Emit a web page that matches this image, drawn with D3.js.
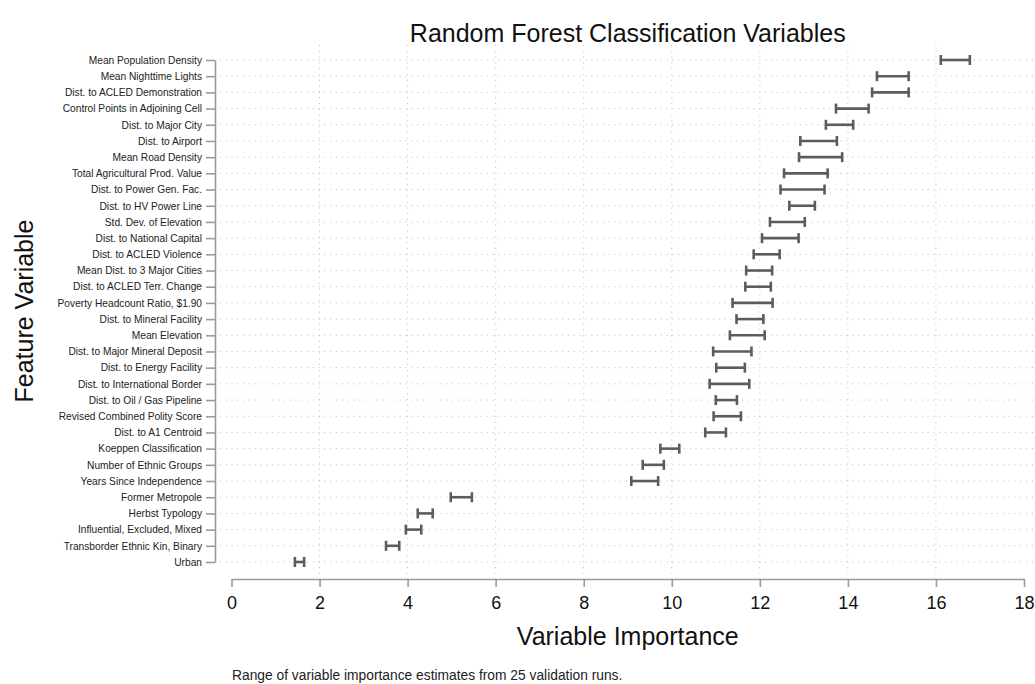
<!DOCTYPE html>
<html>
<head>
<meta charset="utf-8">
<script src="https://cdn.jsdelivr.net/npm/d3@7"></script>
<style>
  html, body { margin: 0; padding: 0; background: #fff; }
  svg { display: block; font-family: "Liberation Sans", Arial, Helvetica, sans-serif; }
</style>
</head>
<body>
<svg id="chart" width="1035" height="684"></svg>
<script>
// Feature variables, ordered from most to least important
const features = [
  "Mean Population Density",
  "Mean Nighttime Lights",
  "Dist. to ACLED Demonstration",
  "Control Points in Adjoining Cell",
  "Dist. to Major City",
  "Dist. to Airport",
  "Mean Road Density",
  "Total Agricultural Prod. Value",
  "Dist. to Power Gen. Fac.",
  "Dist. to HV Power Line",
  "Std. Dev. of Elevation",
  "Dist. to National Capital",
  "Dist. to ACLED Violence",
  "Mean Dist. to 3 Major Cities",
  "Dist. to ACLED Terr. Change",
  "Poverty Headcount Ratio, $1.90",
  "Dist. to Mineral Facility",
  "Mean Elevation",
  "Dist. to Major Mineral Deposit",
  "Dist. to Energy Facility",
  "Dist. to International Border",
  "Dist. to Oil / Gas Pipeline",
  "Revised Combined Polity Score",
  "Dist. to A1 Centroid",
  "Koeppen Classification",
  "Number of Ethnic Groups",
  "Years Since Independence",
  "Former Metropole",
  "Herbst Typology",
  "Influential, Excluded, Mixed",
  "Transborder Ethnic Kin, Binary",
  "Urban"
];

// Minimum importance across validation runs
const minImportance = [
  16.11, 14.66, 14.55, 13.73, 13.50, 12.92, 12.89, 12.55,
  12.47, 12.67, 12.23, 12.05, 11.86, 11.69, 11.67, 11.38,
  11.47, 11.32, 10.94, 11.01, 10.86, 11.00, 10.95, 10.76,
  9.74, 9.34, 9.08, 4.98, 4.23, 3.96, 3.51, 1.44
];

// Maximum importance across validation runs
const maxImportance = [
  16.77, 15.38, 15.38, 14.47, 14.12, 13.75, 13.87, 13.54,
  13.47, 13.25, 13.02, 12.88, 12.45, 12.28, 12.25, 12.29,
  12.08, 12.11, 11.81, 11.66, 11.76, 11.48, 11.57, 11.23,
  10.17, 9.82, 9.69, 5.46, 4.57, 4.31, 3.81, 1.65
];

const xTicks = [0, 2, 4, 6, 8, 10, 12, 14, 16, 18];
const gridTicks = [2, 4, 6, 8, 10, 12, 14, 16];

const svg = d3.select("#chart");

const x = d3.scaleLinear().domain([0, 18]).range([231.5, 1024]);
const y = d3.scalePoint().domain(features).range([60, 562]);

const plotLeft = 220, plotRight = 1035, plotTop = 45, plotBottom = 579;

const rows = features.map((f, i) => ({ name: f, lo: minImportance[i], hi: maxImportance[i] }));

// Grid lines
const grid = svg.append("g").attr("class", "grid");
grid.selectAll("line.h").data(features).join("line")
  .attr("class", "h")
  .attr("x1", plotLeft).attr("x2", plotRight)
  .attr("y1", d => y(d)).attr("y2", d => y(d))
  .attr("stroke", "#bdbdbd").attr("stroke-width", 1)
  .attr("stroke-dasharray", "1,4.8");
grid.selectAll("line.v").data(gridTicks).join("line")
  .attr("class", "v")
  .attr("x1", d => x(d)).attr("x2", d => x(d))
  .attr("y1", plotTop).attr("y2", plotBottom)
  .attr("stroke", "#bdbdbd").attr("stroke-width", 1)
  .attr("stroke-dasharray", "1,4.8");

// Range bars with end caps
const bars = svg.append("g").attr("class", "ranges")
  .attr("stroke", "#5c5c5c").attr("stroke-width", 2.6).attr("fill", "none");
bars.selectAll("line.span").data(rows).join("line")
  .attr("class", "span")
  .attr("x1", d => x(d.lo)).attr("x2", d => x(d.hi))
  .attr("y1", d => y(d.name)).attr("y2", d => y(d.name));
bars.selectAll("line.caplo").data(rows).join("line")
  .attr("class", "caplo")
  .attr("x1", d => x(d.lo)).attr("x2", d => x(d.lo))
  .attr("y1", d => y(d.name) - 5).attr("y2", d => y(d.name) + 5);
bars.selectAll("line.caphi").data(rows).join("line")
  .attr("class", "caphi")
  .attr("x1", d => x(d.hi)).attr("x2", d => x(d.hi))
  .attr("y1", d => y(d.name) - 5).attr("y2", d => y(d.name) + 5);

// Y axis
const yAxis = svg.append("g")
  .attr("transform", "translate(215,0)")
  .call(d3.axisLeft(y).tickSize(9).tickPadding(4).tickSizeOuter(0));
yAxis.select(".domain").attr("stroke", "#9a9a9a").attr("stroke-width", 1.6);
yAxis.selectAll(".tick line").attr("stroke", "#9a9a9a").attr("stroke-width", 1.6);
yAxis.selectAll(".tick text")
  .attr("font-family", "Liberation Sans, Arial, sans-serif")
  .attr("font-size", 10.2).attr("fill", "#222");

// X axis
const xAxis = svg.append("g")
  .attr("transform", `translate(0,${plotBottom})`)
  .call(d3.axisBottom(x).tickValues(xTicks).tickSize(8).tickPadding(9).tickSizeOuter(0));
xAxis.select(".domain").attr("stroke", "#9a9a9a").attr("stroke-width", 1.6);
xAxis.selectAll(".tick line").attr("stroke", "#9a9a9a").attr("stroke-width", 1.6);
xAxis.selectAll(".tick text")
  .attr("font-family", "Liberation Sans, Arial, sans-serif")
  .attr("font-size", 18).attr("fill", "#111");

// Titles
const xMid = (x(0) + x(18)) / 2;

svg.append("text")
  .attr("x", xMid).attr("y", 42)
  .attr("text-anchor", "middle")
  .attr("font-size", 25).attr("fill", "#111")
  .text("Random Forest Classification Variables");

svg.append("text")
  .attr("x", xMid).attr("y", 645)
  .attr("text-anchor", "middle")
  .attr("font-size", 25).attr("fill", "#111")
  .text("Variable Importance");

svg.append("text")
  .attr("transform", `translate(33,${(y.range()[0] + y.range()[1]) / 2}) rotate(-90)`)
  .attr("text-anchor", "middle")
  .attr("font-size", 25).attr("fill", "#111")
  .text("Feature Variable");

svg.append("text")
  .attr("x", 232).attr("y", 680)
  .attr("font-size", 13.8).attr("fill", "#222")
  .text("Range of variable importance estimates from 25 validation runs.");
</script>
</body>
</html>
